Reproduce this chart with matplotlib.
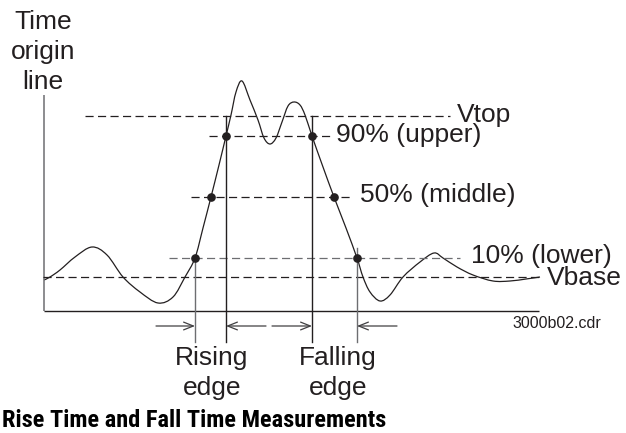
import matplotlib
matplotlib.use("Agg")
import matplotlib.pyplot as plt
from matplotlib.path import Path
from matplotlib.patches import PathPatch
from matplotlib import font_manager
import numpy as np

# ---------------- data (time, voltage) ----------------
wave_t = [0, 6, 16, 31, 48, 63, 79, 96, 114, 129, 141, 151, 159, 167, 175, 182,
          187, 192, 198, 206, 214, 220, 226, 232, 238, 244, 250, 256, 261, 268,
          279, 290, 302, 313, 319, 326, 336, 346, 359, 376, 390, 399, 413, 429,
          449, 466, 482, 496]
wave_v = [31, 34, 41, 54, 64, 56, 34, 19, 8, 14, 34, 53, 83, 114, 146, 175,
          196, 219, 230, 211, 191, 173, 167, 173, 189, 205, 209, 206, 196, 175,
          144, 114, 83, 53, 34, 19, 10, 16, 34, 49, 58, 53, 44, 36,
          30, 30, 32, 34]

level_names = ["Vtop", "90% (upper)", "50% (middle)", "10% (lower)", "Vbase"]
level_values = [195, 175, 114, 53, 34]

edge_t = [151, 167, 182, 268, 290, 313]
edge_v = [53, 114, 175, 175, 114, 53]

edge_labels = ["Rising\nedge", "Falling\nedge"]
file_tag = "3000b02.cdr"
axis_label = ["Time", "origin", "line"]
caption = "Rise Time and Fall Time Measurements"

# ---------------- figure ----------------
W, H = 626, 433
fig = plt.figure(figsize=(W / 100, H / 100), dpi=100)
ax = fig.add_axes([0, 0, 1, 1])
ax.set_xlim(-44, W - 44)
ax.set_ylim(311 - H, 311)
ax.axis("off")

ink = "#231f20"
gray = "#6d6e71"
font = "Liberation Sans"
fs = 19

# axes of the diagram
ax.plot([0, 0], [0, 216], color=gray, lw=1.1, solid_capstyle="butt")
ax.plot([0, 495], [0, 0], color=ink, lw=1.0, solid_capstyle="butt")

# dashed level lines
dash = (0, (6.5, 3.5))
level_spans = {"Vtop": (41, 406), "90% (upper)": (165, 288),
               "50% (middle)": (147, 309), "10% (lower)": (125, 416),
               "Vbase": (-1, 496)}
level_cols = {"Vtop": ink, "90% (upper)": ink, "50% (middle)": ink,
              "10% (lower)": gray, "Vbase": ink}
for name, val in zip(level_names, level_values):
    a, b = level_spans[name]
    ax.plot([a, b], [val, val], color=level_cols[name], lw=0.9, linestyle=dash)

# vertical edge lines
ax.plot([151, 151], [53, -31], color=gray, lw=1.0)
ax.plot([182, 182], [195, -31], color=ink, lw=1.0)
ax.plot([268, 268], [195, -31], color=ink, lw=1.0)
ax.plot([313, 313], [63, -31], color=gray, lw=1.0)

# waveform: smooth curve through the read points (Catmull-Rom -> Bezier)
P = np.column_stack([wave_t, wave_v]).astype(float)
Pe = np.vstack([P[0], P, P[-1]])
verts = [tuple(P[0])]
codes = [Path.MOVETO]
for i in range(1, len(Pe) - 2):
    p0, p1, p2, p3 = Pe[i - 1], Pe[i], Pe[i + 1], Pe[i + 2]
    c1 = p1 + (p2 - p0) / 6.0
    c2 = p2 - (p3 - p1) / 6.0
    verts += [tuple(c1), tuple(c2), tuple(p2)]
    codes += [Path.CURVE4] * 3
ax.add_patch(PathPatch(Path(verts, codes), facecolor="none",
                       edgecolor=ink, lw=0.9))

# crossing points
ax.plot(edge_t, edge_v, "o", color=ink, ms=5.2, zorder=5)

# arrows
arr = dict(arrowstyle="->,head_length=0.7,head_width=0.28", color="#414042",
           lw=0.9, shrinkA=0, shrinkB=0)
for x0, x1 in [(112, 151), (222, 182), (228, 268), (353, 313)]:
    ax.annotate("", xy=(x1, -15), xytext=(x0, -15), arrowprops=arr)

# level labels
label_pos = {"Vtop": (413, 189.3), "90% (upper)": (292, 169.3),
             "50% (middle)": (316, 109.3), "10% (lower)": (427, 47.7),
             "Vbase": (503, 26)}
for name in level_names:
    x, y = label_pos[name]
    ax.text(x, y, name, fontsize=fs, family=font, color=ink,
            ha="left", va="baseline")

# time origin label
for line, y in zip(axis_label, [281.7, 251.7, 221.7]):
    ax.text(-1, y, line, fontsize=fs, family=font, color=ink,
            ha="center", va="baseline")

# edge labels
for lab, xc in zip(edge_labels, [168, 294]):
    l1, l2 = lab.split("\n")
    ax.text(xc, -54, l1, fontsize=fs, family=font, color=ink,
            ha="center", va="baseline")
    ax.text(xc, -84, l2, fontsize=fs, family=font, color=ink,
            ha="center", va="baseline")

ax.text(468, -17, file_tag, fontsize=11.5, family=font, color=ink,
        ha="left", va="baseline")

# caption (condensed bold face)
names = {f.name for f in font_manager.fontManager.ttflist}
cap_font = "DejaVu Sans"
for cand in ["Roboto Condensed", "Archivo Narrow", "Barlow Semi Condensed",
             "Asap Condensed", "Barlow Condensed"]:
    if cand in names:
        cap_font = cand
        break
t = fig.text(2 / W, 1 - 427 / H, caption, fontsize=17, family=cap_font,
             fontweight="bold", color="black", ha="left", va="baseline")
fig.canvas.draw()
bb = t.get_window_extent()
t.set_fontsize(17 * 384 / bb.width)

fig.savefig("out.png", dpi=100)
